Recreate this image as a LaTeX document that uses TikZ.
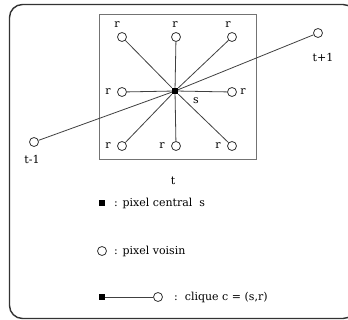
\documentclass[tikz,border=0pt]{standalone}
\usepackage{fontspec}
\setmainfont{DejaVu Serif}
\begin{document}
\begin{tikzpicture}[x=1pt,y=-1pt,
  every node/.style={font=\fontsize{11}{13}\selectfont},
  nb/.style={circle,draw=black!80,fill=white,line width=0.8pt,minimum size=9pt,inner sep=0pt},
  ctr/.style={rectangle,fill=black,minimum size=6pt,inner sep=0pt},
  lbl/.style={inner sep=0pt},
  ln/.style={draw=black!75,line width=0.8pt}]
\useasboundingbox (0,0) rectangle (348,320);
\clip (0,0) rectangle (348,320);
% outer frame
\draw[black!80,line width=1.4pt,rounded corners=13pt] (9.5,4.5) rectangle (356,318.5);
% inner square
\draw[black!55,line width=0.9pt] (99,14) rectangle (256,159);
% center
\node[ctr] (s) at (175,91) {};
% neighbours
\node[nb] (n1) at (122,37) {};
\node[nb] (n2) at (176,37) {};
\node[nb] (n3) at (232,37) {};
\node[nb] (n4) at (122,92) {};
\node[nb] (n5) at (232,92) {};
\node[nb] (n6) at (122,146) {};
\node[nb] (n7) at (176,146) {};
\node[nb] (n8) at (232,146) {};
\node[nb] (tm1) at (34,142) {};
\node[nb] (tp1) at (318,33) {};
% connectors
\foreach \n in {n1,n2,n3,n4,n5,n6,n7,n8}{\draw[ln] (s) -- (\n);}
\draw[ln] (tm1) -- (s.center) -- (tp1);
\node[ctr] at (s) {};
% labels
\node[lbl] (r1) at (117,25) {r};
\node[lbl] (r2) at (175,25) {r};
\node[lbl] (r3) at (228,25) {r};
\node[lbl] (r4) at (108,92) {r};
\node[lbl] (r5) at (243,92) {r};
\node[lbl] (r6) at (108,146) {r};
\node[lbl] (r7) at (162,146) {r};
\node[lbl] (r8) at (218,146) {r};
\node[lbl] (ls) at (196,101) {s};
\node[lbl] (lt) at (173,181) {t};
\node[lbl] (ltm) at (32,159) {t-1};
\node[lbl] (ltp) at (323,57) {t+1};
% legend
\node[ctr,minimum size=5.5pt] (k1) at (102,203) {};
\node[lbl,anchor=west] (k1t) at (114,203) {: pixel central\ \ s};
\node[nb] (k2) at (102,251) {};
\node[lbl,anchor=west] (k2t) at (114,251) {: pixel voisin};
\node[ctr,minimum size=5.5pt] (k3a) at (102,297) {};
\node[nb] (k3b) at (158,297) {};
\draw[ln] (k3a) -- (k3b);
\node[lbl,anchor=west] (k3t) at (174,297) {:\ \ clique c = (s,r)};
\end{tikzpicture}
\end{document}
